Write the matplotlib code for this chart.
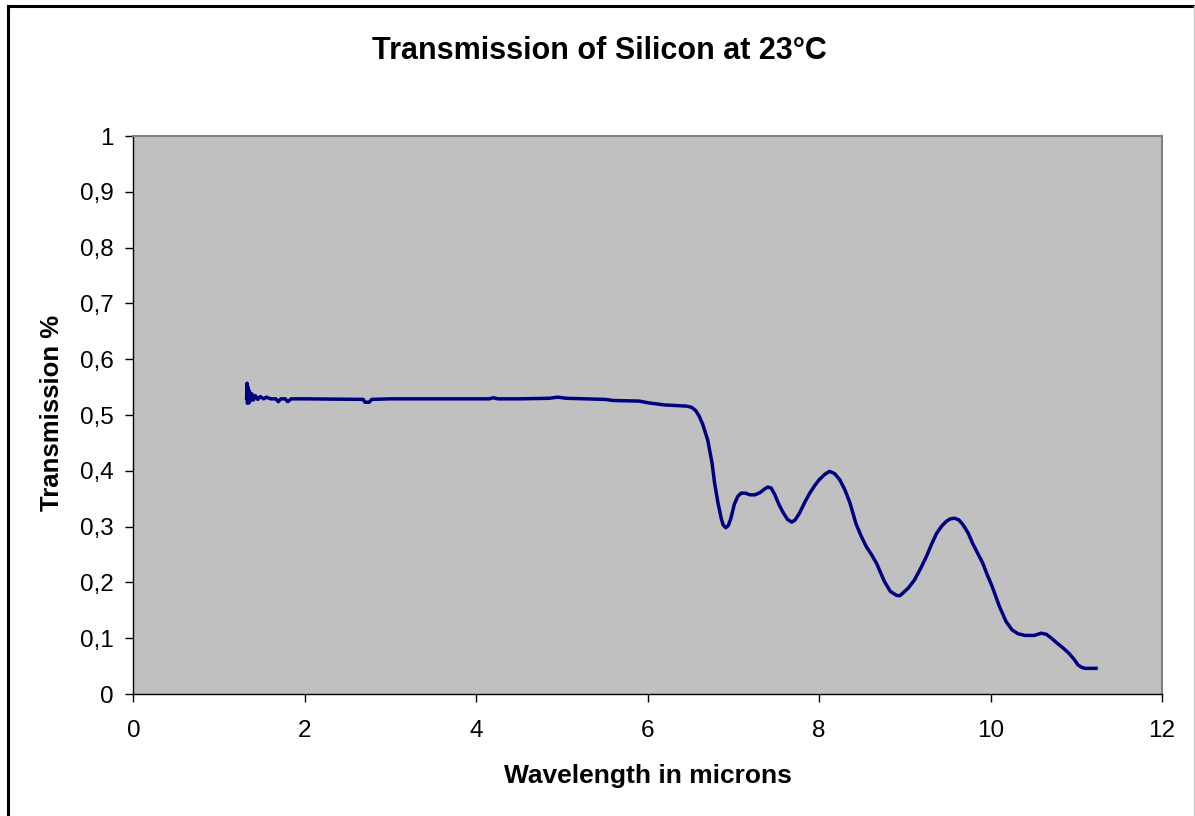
import matplotlib.pyplot as plt
from matplotlib.lines import Line2D

plt.rcParams['font.family'] = ['Liberation Sans', 'DejaVu Sans']

# wavelength (microns) and transmission
wavelength = [1.32, 1.325, 1.33, 1.335, 1.34, 1.345, 1.35, 1.36, 1.37, 1.38,
              1.40, 1.42, 1.45, 1.48, 1.52, 1.55, 1.60, 1.66, 1.69, 1.72,
              1.77, 1.80, 1.84, 2.0, 2.68, 2.70, 2.75, 2.78, 3.0, 4.0,
              4.15, 4.2, 4.25, 4.5, 4.85, 4.95, 5.05, 5.5, 5.6, 5.9,
              6.0, 6.2, 6.45, 6.51, 6.56, 6.60, 6.64, 6.70, 6.75, 6.78,
              6.82, 6.86, 6.88, 6.91, 6.94, 6.97, 7.01, 7.05, 7.09, 7.14,
              7.19, 7.25, 7.31, 7.36, 7.40, 7.44, 7.48, 7.53, 7.58, 7.63,
              7.68, 7.72, 7.77, 7.83, 7.89, 7.95, 8.0, 8.06, 8.12, 8.18,
              8.24, 8.30, 8.36, 8.43, 8.49, 8.55, 8.61, 8.67, 8.76, 8.83,
              8.90, 8.94, 8.97, 9.04, 9.11, 9.18, 9.25, 9.31, 9.37, 9.43,
              9.48, 9.53, 9.58, 9.63, 9.68, 9.74, 9.79, 9.85, 9.91, 9.96,
              10.02, 10.10, 10.18, 10.25, 10.32, 10.40, 10.51, 10.59, 10.65, 10.71,
              10.77, 10.85, 10.92, 10.98, 11.02, 11.06, 11.10, 11.23]
transmission = [0.53, 0.557, 0.521, 0.55, 0.525, 0.545, 0.522, 0.54, 0.526, 0.538,
                0.527, 0.535, 0.528, 0.533, 0.529, 0.532, 0.529, 0.529, 0.524, 0.529,
                0.529, 0.524, 0.529, 0.529, 0.528, 0.523, 0.523, 0.528, 0.529, 0.529,
                0.529, 0.531, 0.529, 0.529, 0.530, 0.532, 0.530, 0.528, 0.526, 0.525,
                0.522, 0.518, 0.516, 0.514, 0.508, 0.498, 0.484, 0.455, 0.414, 0.378,
                0.342, 0.313, 0.303, 0.298, 0.302, 0.315, 0.340, 0.354, 0.360, 0.360,
                0.357, 0.357, 0.361, 0.367, 0.371, 0.369, 0.358, 0.340, 0.325, 0.313,
                0.308, 0.312, 0.324, 0.343, 0.360, 0.374, 0.384, 0.393, 0.399, 0.395,
                0.384, 0.366, 0.342, 0.305, 0.283, 0.264, 0.250, 0.234, 0.202, 0.184,
                0.177, 0.176, 0.180, 0.190, 0.204, 0.224, 0.246, 0.268, 0.288, 0.301,
                0.309, 0.314, 0.315, 0.312, 0.303, 0.288, 0.270, 0.252, 0.234, 0.214,
                0.192, 0.158, 0.130, 0.115, 0.108, 0.105, 0.105, 0.109, 0.107, 0.100,
                0.092, 0.082, 0.072, 0.061, 0.052, 0.048, 0.046, 0.046]

x_ticks = [0, 2, 4, 6, 8, 10, 12]
y_ticks = [0, 0.1, 0.2, 0.3, 0.4, 0.5, 0.6, 0.7, 0.8, 0.9, 1]
y_tick_labels = ['0', '0,1', '0,2', '0,3', '0,4', '0,5', '0,6', '0,7', '0,8', '0,9', '1']

fig = plt.figure(figsize=(11.95, 8.16), dpi=100)
ax = fig.add_axes([0.1117, 0.1495, 0.8607, 0.6838])
ax.set_facecolor('#c0c0c0')

ax.plot(wavelength, transmission, color='#000080', linewidth=2.5,
        solid_joinstyle='round')

ax.set_xlim(0, 12)
ax.set_ylim(0, 1)
ax.set_xticks(x_ticks)
ax.set_yticks(y_ticks)
ax.set_yticklabels(y_tick_labels)
ax.tick_params(axis='both', direction='out', length=6, width=1, labelsize=17.5)
ax.tick_params(axis='x', pad=13)
ax.tick_params(axis='y', pad=8)

for side in ['left', 'bottom']:
    ax.spines[side].set_color('black')
    ax.spines[side].set_linewidth(1)
for side in ['top', 'right']:
    ax.spines[side].set_color('#808080')
    ax.spines[side].set_linewidth(1.5)

ax.set_xlabel('Wavelength in microns', fontsize=19, fontweight='bold')
ax.set_ylabel('Transmission %', fontsize=18.5, fontweight='bold')
ax.xaxis.set_label_coords(0.5, -0.125)
ax.yaxis.set_label_coords(-0.068, 0.504)

fig.text(0.502, 0.938, 'Transmission of Silicon at 23°C', ha='center', va='center',
         fontsize=22, fontweight='bold')

# outer chart frame
fig.add_artist(Line2D([0.0067, 0.0067], [0, 0.9926], color='black', linewidth=2.2,
                      transform=fig.transFigure))
fig.add_artist(Line2D([0.0067, 0.998], [0.9926, 0.9926], color='black', linewidth=2.2,
                      transform=fig.transFigure))
fig.add_artist(Line2D([0.9992, 0.9992], [0, 0.9926], color='#c8c8c8', linewidth=1,
                      transform=fig.transFigure))

fig.savefig('out.png', dpi=100)
